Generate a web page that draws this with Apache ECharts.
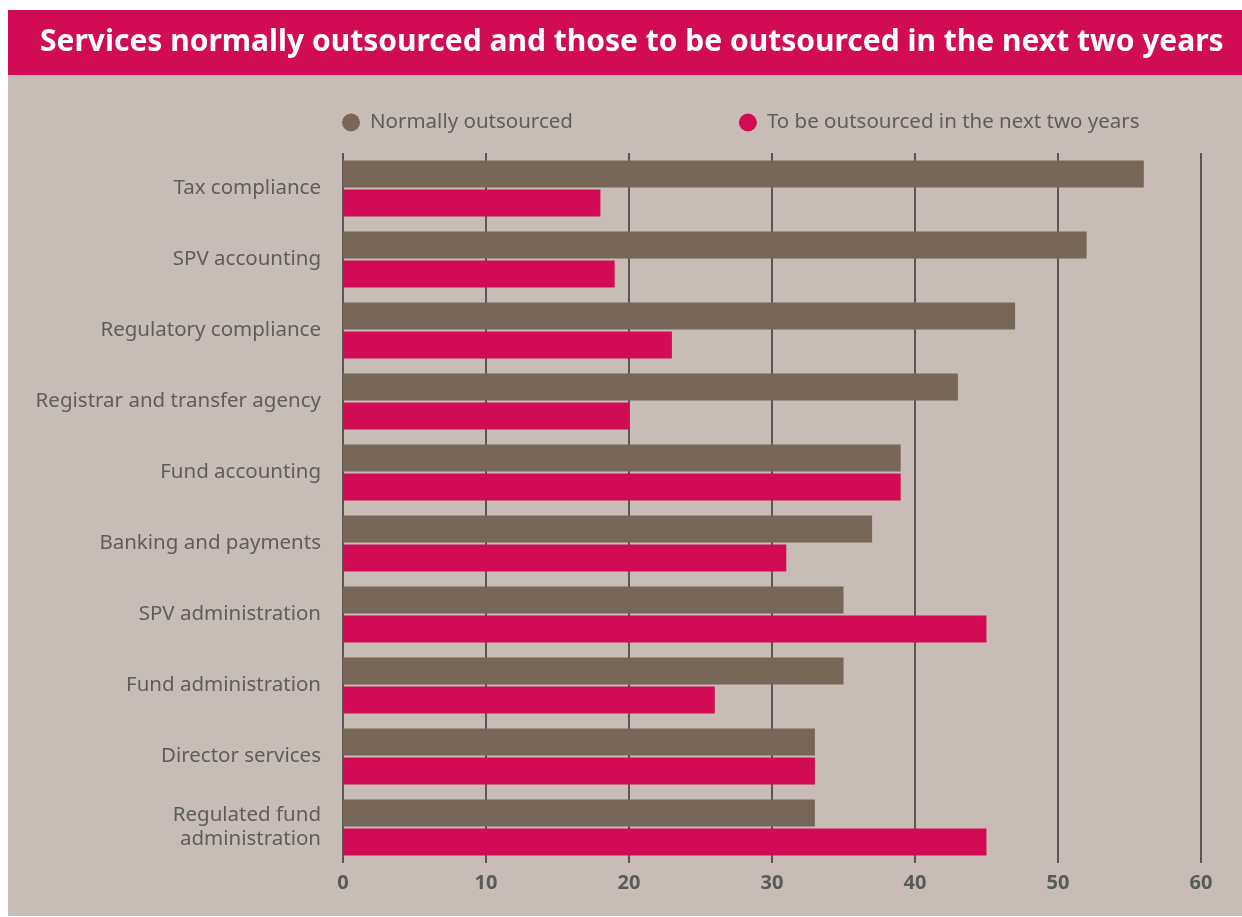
<!DOCTYPE html>
<html>
<head>
<meta charset="utf-8">
<script src="https://cdn.jsdelivr.net/npm/echarts@6/dist/echarts.min.js"></script>
<style>
  html, body { margin: 0; padding: 0; background: #ffffff; }
  #chart { width: 1242px; height: 917px; }
</style>
</head>
<body>
<div id="chart"></div>
<script>
const categories = [
  "Tax compliance",
  "SPV accounting",
  "Regulatory compliance",
  "Registrar and transfer agency",
  "Fund accounting",
  "Banking and payments",
  "SPV administration",
  "Fund administration",
  "Director services",
  "Regulated fund\nadministration",
];
const normallyOutsourced = [56, 52, 47, 43, 39, 37, 35, 35, 33, 33];
const toBeOutsourced = [18, 19, 23, 20, 39, 31, 45, 26, 33, 45];

const font = "Noto Sans";
const chart = echarts.init(document.getElementById("chart"));

chart.setOption({
  animation: false,
  textStyle: { fontFamily: font },
  graphic: [
    {
      type: "rect",
      z: -10,
      shape: { x: 8, y: 75, width: 1234, height: 841 },
      style: { fill: "#c7bdb6" },
    },
    {
      type: "rect",
      z: -10,
      shape: { x: 8, y: 10, width: 1234, height: 65 },
      style: { fill: "#d20c54" },
    },
    {
      type: "text",
      left: 40,
      top: 27,
      style: {
        text: "Services normally outsourced and those to be outsourced in the next two years",
        fill: "#ffffff",
        font: "bold 30px 'Noto Sans'",
      },
    },
  ],
  legend: {
    left: 337,
    top: 107,
    icon: "circle",
    itemWidth: 18,
    itemHeight: 18,
    itemGap: 166,
    textStyle: {
      color: "#5f5d5b",
      fontSize: 20.5,
      fontFamily: font,
      padding: [0, 0, 0, 5],
    },
    data: ["Normally outsourced", "To be outsourced in the next two years"],
  },
  grid: {
    left: 343,
    right: 41,
    top: 153,
    bottom: 54,
  },
  xAxis: {
    type: "value",
    min: 0,
    max: 60,
    interval: 10,
    axisLine: { show: false },
    axisTick: { show: false },
    axisLabel: {
      color: "#5a5a5a",
      fontSize: 20,
      fontWeight: "bold",
      margin: 10,
      fontFamily: font,
    },
    splitLine: {
      show: true,
      lineStyle: { color: "#3a3333", width: 1.5 },
    },
  },
  yAxis: {
    type: "category",
    inverse: true,
    data: categories,
    axisLine: { show: false },
    axisTick: { show: false },
    axisLabel: {
      color: "#5f5d5b",
      fontSize: 20.5,
      margin: 22,
      align: "right",
      lineHeight: 24,
      fontFamily: font,
    },
  },
  series: [
    {
      name: "Normally outsourced",
      type: "bar",
      data: normallyOutsourced,
      itemStyle: { color: "#776758" },
      barGap: "7%",
      barCategoryGap: "21%",
    },
    {
      name: "To be outsourced in the next two years",
      type: "bar",
      data: toBeOutsourced,
      itemStyle: { color: "#d20c54" },
    },
  ],
});
</script>
</body>
</html>
